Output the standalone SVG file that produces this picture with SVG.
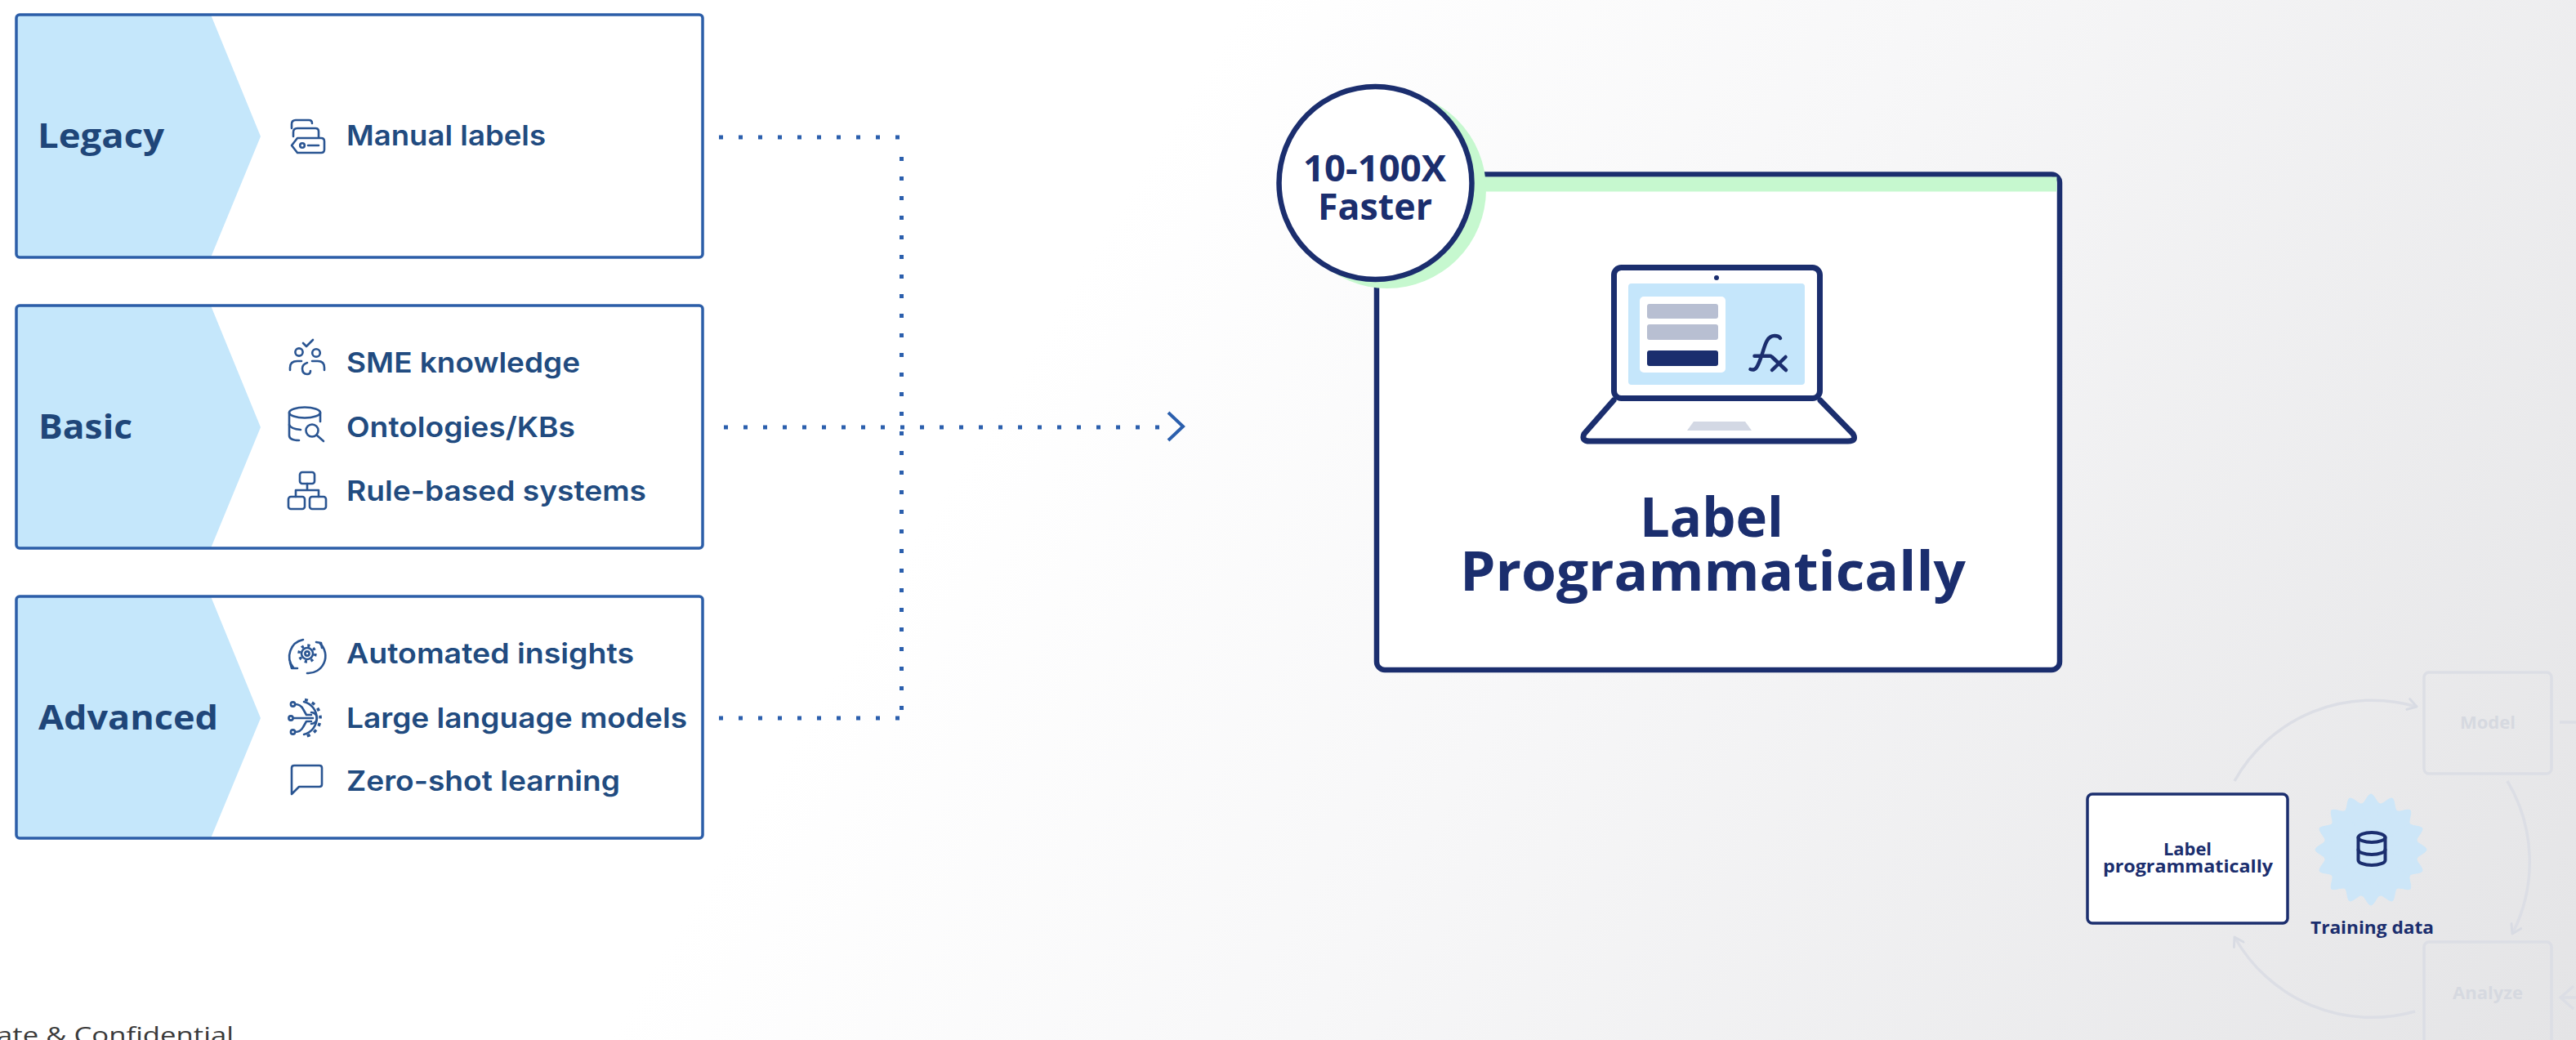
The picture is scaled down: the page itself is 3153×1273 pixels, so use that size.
<svg xmlns="http://www.w3.org/2000/svg" xmlns:xlink="http://www.w3.org/1999/xlink" width="3153" height="1273" viewBox="0 0 3153 1273">
  <defs>
    <linearGradient id="bg" gradientUnits="userSpaceOnUse" x1="1400" y1="200" x2="3153" y2="1273">
      <stop offset="0" stop-color="#ffffff"/>
      <stop offset="0.35" stop-color="#f7f7f8"/>
      <stop offset="1" stop-color="#e4e4e6"/>
    </linearGradient>
    <marker id="fadeArrow" viewBox="0 0 12 12" refX="10" refY="6" markerWidth="16" markerHeight="16" markerUnits="userSpaceOnUse" orient="auto">
      <path d="M2 1 L10 6 L2 11" fill="none" stroke="#d8dbe3" stroke-width="2.2" stroke-linecap="round" stroke-linejoin="round"/>
    </marker>
    <!-- one tooth of the training-data badge, drawn around the origin -->
    <path id="tooth" d="M0 0 L55.9 -11.12 C56.7 -7.2 68 -4 68 0 C68 4 56.7 7.2 55.9 11.12 Z"/>
    <style>
      .tier-box { fill: none; stroke: #2c5ea8; stroke-width: 3.5; }
      .tier-fill { fill: #c5e7fb; }
      .tier-title { font-family: "Open Sans", "Noto Sans", sans-serif; font-weight: 700; font-size: 42px; fill: #1f4679; }
      .item { font-family: Inter, "Noto Sans", sans-serif; font-weight: 600; font-size: 34px; fill: #214b80; }
      .ic { fill: none; stroke: #2a5592; stroke-width: 2.6; stroke-linecap: round; stroke-linejoin: round; }
      .dots { fill: none; stroke: #2b5fad; stroke-width: 5; stroke-dasharray: 5 19; }
      .navy-text { font-family: "Open Sans", "Noto Sans", sans-serif; font-weight: 700; fill: #1b2e6e; text-anchor: middle; }
      .navy-line { fill: none; stroke: #1b2e6e; stroke-linecap: round; stroke-linejoin: round; }
      .faded { fill: none; stroke: #dcdee5; stroke-width: 3.5; }
      .faded-text { font-family: "Open Sans", "Noto Sans", sans-serif; font-weight: 700; font-size: 22px; fill: #d6d9e0; text-anchor: middle; }
    </style>
  </defs>

  <!-- backdrop -->
  <rect x="0" y="0" width="3153" height="1273" fill="#ffffff"/>
  <rect x="0" y="0" width="3153" height="1273" fill="url(#bg)"/>

  <!-- tier: Legacy -->
  <g id="tier-legacy">
    <polygon class="tier-fill" points="20,18 258,18 319,167 258,315 20,315"/>
    <rect class="tier-box" x="20" y="18" width="840" height="297" rx="4"/>
    <text class="tier-title" x="46" y="181" textLength="155" lengthAdjust="spacingAndGlyphs">Legacy</text>
    <g class="ic">
      <path d="M357 157 V152 Q357 147 362 147 H378 Q382 147 382 151"/>
      <path d="M359 167 V162 Q359 157 364 157 H386 Q390 157 390 161 V168"/>
      <path d="M364 169 H393 Q397 169 397 173 V183 Q397 187 393 187 H364 L357 178 Z"/>
      <circle cx="370" cy="178" r="2.8"/>
      <path d="M377 178 H390"/>
    </g>
    <text class="item" x="424" y="178" textLength="244" lengthAdjust="spacingAndGlyphs">Manual labels</text>
  </g>

  <!-- tier: Basic -->
  <g id="tier-basic">
    <polygon class="tier-fill" points="20,374 258,374 319,523 258,671 20,671"/>
    <rect class="tier-box" x="20" y="374" width="840" height="297" rx="4"/>
    <text class="tier-title" x="47" y="537" textLength="115" lengthAdjust="spacingAndGlyphs">Basic</text>
    <g class="ic">
      <path d="M371 420 L375 424 L383 416"/>
      <circle cx="366" cy="431" r="4.6"/>
      <circle cx="387" cy="432" r="4.8"/>
      <path d="M355 453 V450 Q355 442 364 442 H369"/>
      <path d="M382 442 H389 Q397 442 397 450 V453"/>
      <path d="M376 444 Q370 446 370 451 Q370 458 376 458 Q380 458 380 454"/>
    </g>
    <text class="item" x="424" y="456" textLength="286" lengthAdjust="spacingAndGlyphs">SME knowledge</text>
    <g class="ic">
      <ellipse cx="373" cy="505" rx="19" ry="6.5"/>
      <path d="M354 505 V533 Q354 539 366 539"/>
      <path d="M392 505 V516"/>
      <path d="M354 520 Q356 525 368 526"/>
      <circle cx="382" cy="527" r="7.5"/>
      <path d="M387.5 532.5 L396 540"/>
    </g>
    <text class="item" x="424" y="535" textLength="280" lengthAdjust="spacingAndGlyphs">Ontologies/KBs</text>
    <g class="ic">
      <rect x="367" y="578" width="18" height="14" rx="3"/>
      <path d="M376 592 V600 M362 608 V600 H390 V608"/>
      <rect x="353" y="608" width="20" height="15" rx="3"/>
      <rect x="379" y="608" width="20" height="15" rx="3"/>
    </g>
    <text class="item" x="424" y="613" textLength="367" lengthAdjust="spacingAndGlyphs">Rule-based systems</text>
  </g>

  <!-- tier: Advanced -->
  <g id="tier-advanced">
    <polygon class="tier-fill" points="20,730 258,730 319,879 258,1026 20,1026"/>
    <rect class="tier-box" x="20" y="730" width="840" height="296" rx="4"/>
    <text class="tier-title" x="47" y="893" textLength="220" lengthAdjust="spacingAndGlyphs">Advanced</text>
    <g class="ic">
      <circle cx="376" cy="800" r="7"/>
      <circle cx="376" cy="800" r="10" stroke-width="3.4" stroke-dasharray="3.2 4.65" stroke-linecap="butt"/>
      <circle cx="376" cy="800" r="2.6"/>
      <path d="M371 783 A21 21 0 0 0 359 817"/>
      <path d="M355 811 L357 818 L364 818"/>
      <path d="M392 788 A21 21 0 0 1 376 824"/>
      <path d="M387 786 L393 787 L394 793"/>
    </g>
    <text class="item" x="424" y="812" textLength="352" lengthAdjust="spacingAndGlyphs">Automated insights</text>
    <g class="ic">
      <path d="M372 859 A20.6 20.6 0 0 1 372 899"/>
      <path d="M373 856.5 A22.8 22.8 0 0 1 373 901.5" stroke-width="3.5" stroke-dasharray="4 5.5" stroke-linecap="butt"/>
      <path d="M361 862 Q368 862 371 868 L375 875 H381"/>
      <path d="M358.5 879 H383"/>
      <path d="M361 896 Q368 896 371 890 L375 883 H381"/>
      <path d="M381 872 A7 7 0 0 1 381 886"/>
      <circle cx="358.5" cy="862" r="2.6" fill="#ffffff"/>
      <circle cx="356" cy="879" r="2.6" fill="#ffffff"/>
      <circle cx="358.5" cy="896" r="2.6" fill="#ffffff"/>
    </g>
    <text class="item" x="424" y="891" textLength="417" lengthAdjust="spacingAndGlyphs">Large language models</text>
    <g class="ic">
      <path d="M357 972 V940 Q357 937 360 937 H391 Q394 937 394 940 V960 Q394 963 391 963 H366 Z"/>
    </g>
    <text class="item" x="424" y="968" textLength="335" lengthAdjust="spacingAndGlyphs">Zero-shot learning</text>
  </g>

  <!-- dotted connectors from the tiers into the main panel -->
  <g id="connectors">
    <path class="dots" d="M880 168 H1102"/>
    <path class="dots" d="M1103.5 192 V882"/>
    <path class="dots" d="M880 879 H1102"/>
    <path class="dots" d="M886 523 H1420"/>
    <path d="M1430 505 L1448 522 L1430 539" fill="none" stroke="#2b5fad" stroke-width="4"/>
  </g>

  <!-- main panel: Label Programmatically -->
  <g id="label-programmatically">
    <rect x="1685" y="213.5" width="836" height="606.5" rx="10" fill="#ffffff" stroke="#1b2e6e" stroke-width="6.5"/>
    <rect x="1688.5" y="216.5" width="829" height="18" fill="#c6f8cf"/>
    <!-- laptop -->
    <g id="laptop">
      <path class="navy-line" d="M1975 490 L1939 531 Q1935 540 1946 540 H2262 Q2273 540 2268 531 L2228 490" fill="#ffffff" stroke-width="7"/>
      <polygon points="2073,516 2136,516 2144,527 2065,527" fill="#d3d8e4"/>
      <rect x="1975.5" y="327.5" width="252" height="160" rx="9" fill="#ffffff" stroke="#1b2e6e" stroke-width="7"/>
      <circle cx="2101" cy="340" r="3" fill="#1b2e6e"/>
      <rect x="1993" y="347" width="216" height="124" rx="4" fill="#c5e6fb"/>
      <rect x="2007" y="363" width="105" height="93" rx="5" fill="#ffffff"/>
      <rect x="2016" y="372" width="87" height="18" rx="3" fill="#b8bfd2"/>
      <rect x="2016" y="397" width="87" height="19" rx="3" fill="#b8bfd2"/>
      <rect x="2016" y="429" width="87" height="19" rx="3" fill="#1b2e6e"/>
      <g class="navy-line" stroke-width="4.5">
        <path d="M2142.5 452 C2150 455 2152 446 2156 436 C2160 424 2162 411 2172 411 C2176 411 2178 412 2179 414"/>
        <path d="M2147.5 435.7 H2167"/>
        <path d="M2169 437 L2186 453 M2185.5 437 L2169 453"/>
      </g>
    </g>
    <text class="navy-text" x="2095" y="657" font-size="66" textLength="176" lengthAdjust="spacingAndGlyphs">Label</text>
    <text class="navy-text" x="2096.5" y="723" font-size="66" textLength="619" lengthAdjust="spacingAndGlyphs">Programmatically</text>
  </g>

  <!-- speed badge -->
  <g id="speed-badge">
    <circle cx="1698" cy="232" r="121" fill="#c6f8cf"/>
    <circle cx="1683.5" cy="224" r="118" fill="#ffffff" stroke="#1b2e6e" stroke-width="6.5"/>
    <text class="navy-text" x="1682.5" y="222" font-size="45" textLength="175" lengthAdjust="spacingAndGlyphs">10-100X</text>
    <text class="navy-text" x="1683" y="269" font-size="45" textLength="140" lengthAdjust="spacingAndGlyphs">Faster</text>
  </g>

  <!-- faded workflow cycle -->
  <g id="cycle-arcs">
    <path class="faded" d="M2735 956 A193 193 0 0 1 2958 865" marker-end="url(#fadeArrow)"/>
    <path class="faded" d="M3069 956 A193 193 0 0 1 3075 1143" marker-end="url(#fadeArrow)"/>
    <path class="faded" d="M2956 1238 A193 193 0 0 1 2735 1147" marker-end="url(#fadeArrow)"/>
    <path class="faded" d="M3133 884 H3153"/>
    <path class="faded" d="M3150 1207 L3134 1221 L3150 1235 M3134 1221 H3153"/>
  </g>
  <g id="model">
    <rect class="faded" x="2967" y="823" width="156" height="124" rx="6"/>
    <text class="faded-text" x="3045" y="892">Model</text>
  </g>
  <g id="analyze">
    <rect class="faded" x="2967" y="1153" width="156" height="150" rx="6"/>
    <text class="faded-text" x="3045" y="1223">Analyze</text>
  </g>

  <!-- small step card -->
  <g id="label-step">
    <rect x="2555" y="972" width="245" height="158" rx="6" fill="#ffffff" stroke="#1b2e6e" stroke-width="3.5"/>
    <text class="navy-text" x="2677.5" y="1047" font-size="21" textLength="59" lengthAdjust="spacingAndGlyphs">Label</text>
    <text class="navy-text" x="2678" y="1068" font-size="21" textLength="208" lengthAdjust="spacingAndGlyphs">programmatically</text>
  </g>

  <!-- training data badge -->
  <g id="training-data">
    <g fill="#cde6f8" stroke="#cde6f8" stroke-width="1" transform="translate(2902 1040)">
      <circle r="57"/>
      <use href="#tooth" xlink:href="#tooth"/>
      <use href="#tooth" xlink:href="#tooth" transform="rotate(22.5)"/>
      <use href="#tooth" xlink:href="#tooth" transform="rotate(45)"/>
      <use href="#tooth" xlink:href="#tooth" transform="rotate(67.5)"/>
      <use href="#tooth" xlink:href="#tooth" transform="rotate(90)"/>
      <use href="#tooth" xlink:href="#tooth" transform="rotate(112.5)"/>
      <use href="#tooth" xlink:href="#tooth" transform="rotate(135)"/>
      <use href="#tooth" xlink:href="#tooth" transform="rotate(157.5)"/>
      <use href="#tooth" xlink:href="#tooth" transform="rotate(180)"/>
      <use href="#tooth" xlink:href="#tooth" transform="rotate(202.5)"/>
      <use href="#tooth" xlink:href="#tooth" transform="rotate(225)"/>
      <use href="#tooth" xlink:href="#tooth" transform="rotate(247.5)"/>
      <use href="#tooth" xlink:href="#tooth" transform="rotate(270)"/>
      <use href="#tooth" xlink:href="#tooth" transform="rotate(292.5)"/>
      <use href="#tooth" xlink:href="#tooth" transform="rotate(315)"/>
      <use href="#tooth" xlink:href="#tooth" transform="rotate(337.5)"/>
    </g>
    <g class="navy-line" stroke-width="4">
      <ellipse cx="2903" cy="1025" rx="16.5" ry="6"/>
      <path d="M2886.5 1025 V1053 A16.5 6 0 0 0 2919.5 1053 V1025"/>
      <path d="M2886.5 1040 A16.5 6 0 0 0 2919.5 1040"/>
    </g>
    <text class="navy-text" x="2903.5" y="1143" font-size="22" textLength="151" lengthAdjust="spacingAndGlyphs">Training data</text>
  </g>

  <!-- footer -->
  <text x="-4" y="1277" font-family="'Open Sans', 'Noto Sans', sans-serif" font-size="28" fill="#3a3a3a" textLength="290" lengthAdjust="spacingAndGlyphs">ate &amp; Confidential</text>
</svg>
